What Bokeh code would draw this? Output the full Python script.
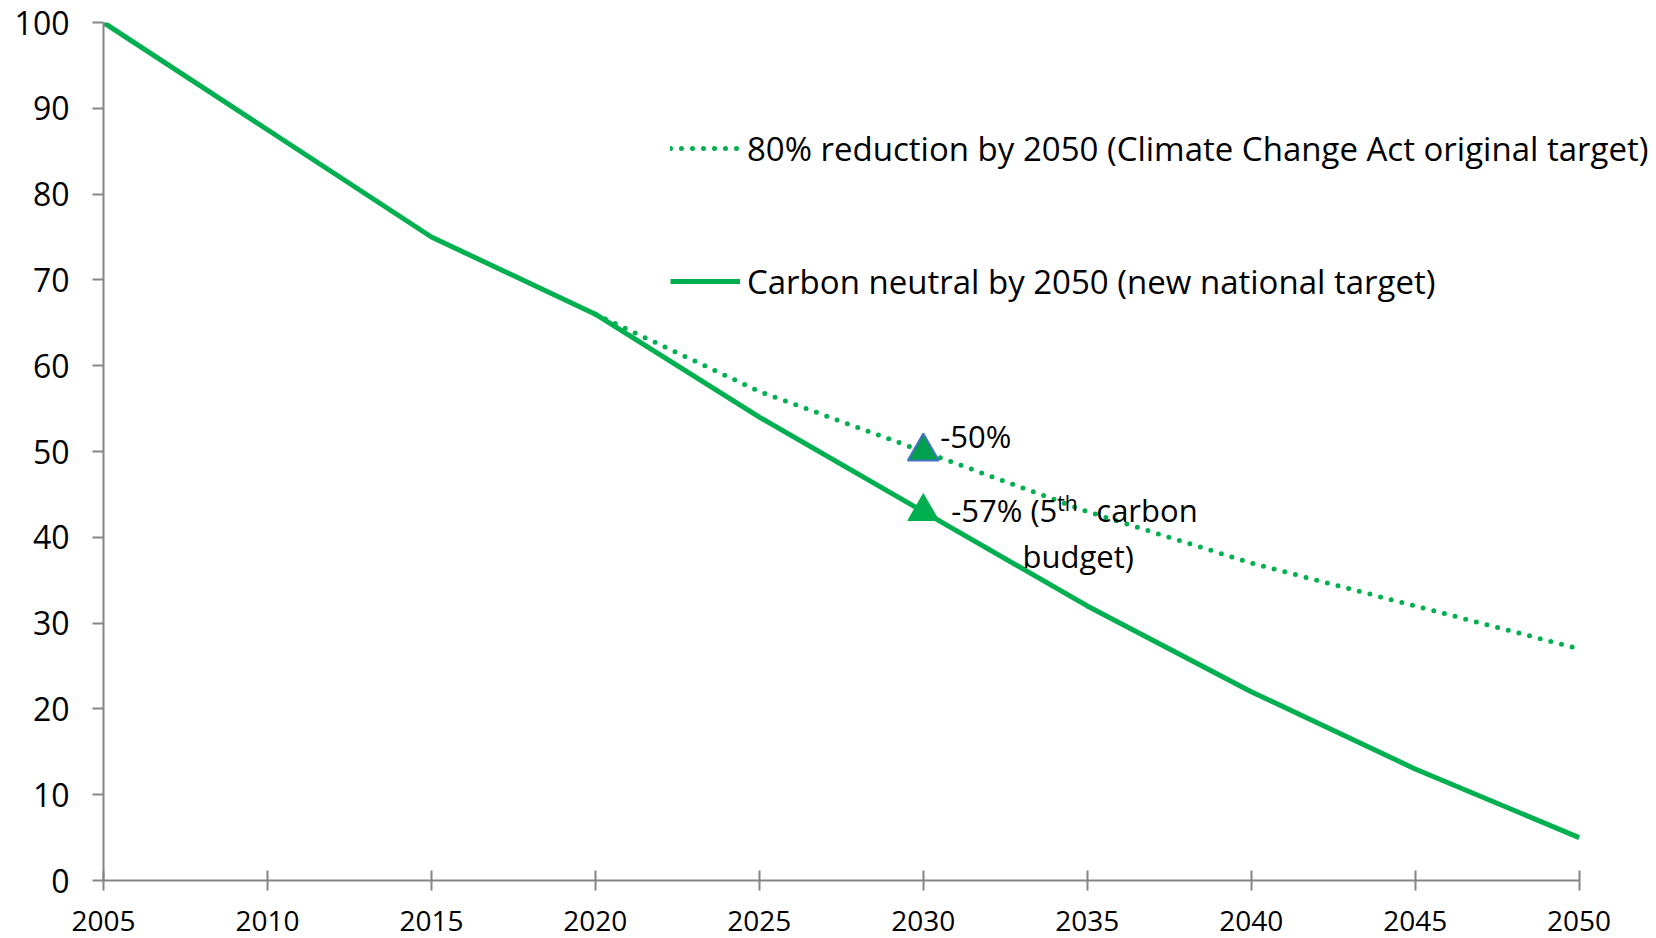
from bokeh.plotting import figure
from bokeh.models import ColumnDataSource, Legend, LegendItem, FixedTicker
from bokeh.embed import file_html
from bokeh.resources import INLINE
from bokeh.core.properties import value

# ---- data ----
years = [2005, 2010, 2015, 2020, 2025, 2030, 2035, 2040, 2045, 2050]
carbon_neutral = [100, 87.5, 75, 66, 54, 43, 32, 22, 13, 5]
years_80 = [2020, 2025, 2030, 2035, 2040, 2045, 2050]
reduction_80 = [66, 57, 50, 43, 37, 32, 27]
marker_year = [2030]
marker_80 = [50]
marker_neutral = [43]
y_ticks = [0, 10, 20, 30, 40, 50, 60, 70, 80, 90, 100]
x_ticks = [2005, 2010, 2015, 2020, 2025, 2030, 2035, 2040, 2045, 2050]
legend_labels = ["80% reduction by 2050 (Climate Change Act original target)",
                 "Carbon neutral by 2050 (new national target)"]
label_50 = ["-50%"]
label_57_a = ["-57% (5"]
label_57_sup = ["th"]
label_57_b = ["carbon"]
label_57_c = ["budget)"]

GREEN = "#00B050"
FONT = "Open Sans"
AXIS = "#868686"

# x range runs a little past 2050 so the legend text has room; the axis is bounded to 2005-2050
p = figure(width=1656, height=938, output_backend="svg", toolbar_location=None,
           x_range=(2005, 2052.36), y_range=(0, 100),
           min_border_left=103, min_border_right=0, min_border_top=22, min_border_bottom=58)
p.outline_line_color = None
p.xgrid.visible = False
p.ygrid.visible = False

line_80 = p.line(years_80, reduction_80, line_color=GREEN, line_width=5,
                 line_dash="0 11", line_cap="round")
line_cn = p.line(years, carbon_neutral, line_color=GREEN, line_width=5, line_join="round")

p.scatter(marker_year, marker_80, marker="triangle", size=31,
          fill_color="#00A04E", line_color="#4472C4", line_width=2)
p.scatter(marker_year, marker_neutral, marker="triangle", size=31,
          fill_color=GREEN, line_color=GREEN, line_width=1)

fs = "31px"
def add_text(ys, labels, dx, dy, size=fs, align="left"):
    src = ColumnDataSource(dict(x=marker_year, y=ys, t=labels))
    p.text(x="x", y="y", text="t", source=src, x_offset=dx, y_offset=dy,
           text_font=value(FONT), text_font_size=value(size), text_align=align,
           text_baseline="alphabetic", text_color="black")

add_text(marker_80, label_50, 17, -16)
add_text(marker_neutral, label_57_a, 28, -2)
add_text(marker_neutral, label_57_sup, 134, -9, size="21px")
add_text(marker_neutral, label_57_b, 173, -2)
add_text(marker_neutral, label_57_c, 155, 44, align="center")

# axes
for ax in (p.xaxis[0], p.yaxis[0]):
    ax.axis_line_color = AXIS
    ax.axis_line_width = 2
    ax.major_tick_line_color = AXIS
    ax.major_tick_line_width = 2
    ax.minor_tick_line_color = None
    ax.major_label_text_font = FONT
    ax.major_label_text_color = "black"
p.xaxis.bounds = (2005, 2050)
p.xaxis.major_label_text_font_size = "28px"
p.yaxis.major_label_text_font_size = "32px"
p.xaxis.ticker = FixedTicker(ticks=x_ticks)
p.yaxis.ticker = FixedTicker(ticks=y_ticks)
p.xaxis.major_tick_in = 10
p.xaxis.major_tick_out = 10
p.xaxis.major_label_standoff = 20
p.yaxis.major_tick_in = 0
p.yaxis.major_tick_out = 11
p.yaxis.major_label_standoff = 23

legend = Legend(items=[LegendItem(label=legend_labels[0], renderers=[line_80]),
                       LegendItem(label=legend_labels[1], renderers=[line_cn])],
                location=(567, 576), orientation="vertical",
                glyph_width=70, glyph_height=46, label_height=46, label_standoff=7,
                spacing=87, padding=0, margin=0,
                label_text_font=FONT, label_text_font_size="33px",
                label_text_color="black",
                background_fill_alpha=0, border_line_alpha=0)
p.add_layout(legend, "center")

open("out.html", "w").write(file_html(p, INLINE))
